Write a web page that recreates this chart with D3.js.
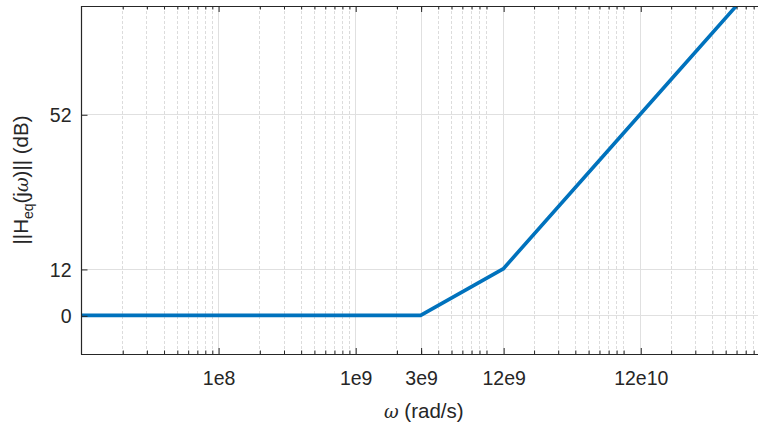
<!DOCTYPE html>
<html>
<head>
<meta charset="utf-8">
<script src="https://cdn.jsdelivr.net/npm/d3@7"></script>
<style>
  html, body { margin: 0; padding: 0; background: #fff; overflow: hidden; }
  svg { display: block; }
  text { font-family: "Liberation Sans", Arial, Helvetica, sans-serif; fill: #262626; }
</style>
</head>
<body>
<script>
// ---- data ----
const omega = [1e7, 3e9, 12e9, 12e10, 1.2e12];      // rad/s (corner points)
const gainDb = [0, 0, 12, 52, 92];                    // dB
const xTickValues = [1e8, 1e9, 3e9, 12e9, 12e10];
const xTickLabels = ["1e8", "1e9", "3e9", "12e9", "12e10"];
const yTickValues = [0, 12, 52];
const xDomain = [1e7, 1e12];
const yDomain = [-10, 80];

(function () {
const W = 758, H = 424;
const pL = 81, pT = 6, pB = 354;
const pR = pL + 5 * 137.1;   // axis extends beyond the cropped picture

const svg = d3.select("body").append("svg").attr("width", W).attr("height", H);

const x = d3.scaleLog().domain(xDomain).range([pL, pR]);
const y = d3.scaleLinear().domain(yDomain).range([pB, pT]);

// minor tick positions: k * 10^n, k = 2..9
const minorVals = [];
for (let n = 7; n < 12; n++) for (let k = 2; k <= 9; k++) minorVals.push(k * Math.pow(10, n));

const g = svg.append("g");

// minor grid (dashed)
g.append("g").selectAll("line").data(minorVals).join("line")
  .attr("x1", d => Math.round(x(d)) + 0.5).attr("x2", d => Math.round(x(d)) + 0.5)
  .attr("y1", pT).attr("y2", pB)
  .attr("stroke", "#dcdcdc").attr("stroke-width", 1).attr("stroke-dasharray", "3,2");

// major grid
g.append("g").selectAll("line").data(xTickValues).join("line")
  .attr("x1", d => Math.round(x(d)) + 0.5).attr("x2", d => Math.round(x(d)) + 0.5)
  .attr("y1", pT).attr("y2", pB)
  .attr("stroke", "#e0e0e0").attr("stroke-width", 1);
g.append("g").selectAll("line").data(yTickValues).join("line")
  .attr("x1", pL).attr("x2", pR)
  .attr("y1", d => Math.round(y(d)) + 0.5).attr("y2", d => Math.round(y(d)) + 0.5)
  .attr("stroke", "#e0e0e0").attr("stroke-width", 1);

// clip
svg.append("clipPath").attr("id", "clip").append("rect")
  .attr("x", pL).attr("y", pT).attr("width", pR - pL).attr("height", pB - pT);

// line
const pts = omega.map((w, i) => [w, gainDb[i]]);
svg.append("path").datum(pts)
  .attr("clip-path", "url(#clip)")
  .attr("fill", "none").attr("stroke", "#0072BD").attr("stroke-width", 3.6)
  .attr("stroke-linejoin", "round")
  .attr("d", d3.line().x(d => x(d[0])).y(d => y(d[1])));

const axisColor = "#262626";
function styleAxis(sel) {
  sel.select(".domain").remove();
  sel.selectAll("line").attr("stroke", axisColor).attr("stroke-width", 1);
}

// bottom major
const gb = svg.append("g").attr("transform", `translate(0.5,${pB})`)
  .call(d3.axisBottom(x).tickValues(xTickValues).tickFormat((d, i) => xTickLabels[i])
    .tickSizeInner(-6).tickSizeOuter(0));
styleAxis(gb);
gb.selectAll("text").attr("font-size", 19.5).attr("fill", axisColor).attr("dy", 0).attr("y", 30.5);

// bottom minor
const gbm = svg.append("g").attr("transform", `translate(0.5,${pB})`)
  .call(d3.axisBottom(x).tickValues(minorVals).tickFormat("").tickSizeInner(-3.5).tickSizeOuter(0));
styleAxis(gbm);

// top major & minor (inward)
const gt = svg.append("g").attr("transform", `translate(0.5,${pT})`)
  .call(d3.axisTop(x).tickValues(xTickValues).tickFormat("").tickSizeInner(-6).tickSizeOuter(0));
styleAxis(gt);
const gtm = svg.append("g").attr("transform", `translate(0.5,${pT})`)
  .call(d3.axisTop(x).tickValues(minorVals).tickFormat("").tickSizeInner(-3.5).tickSizeOuter(0));
styleAxis(gtm);

// left axis
const gl = svg.append("g").attr("transform", `translate(${pL + 0.5},0.5)`)
  .call(d3.axisLeft(y).tickValues(yTickValues).tickFormat(d3.format("d")).tickSizeInner(-6).tickSizeOuter(0));
styleAxis(gl);
gl.selectAll("text").attr("font-size", 19.5).attr("fill", axisColor).attr("x", -10).attr("dy", "0.36em");

// box lines
svg.append("line").attr("x1", pL + 0.5).attr("x2", pL + 0.5).attr("y1", pT).attr("y2", pB + 0.5)
  .attr("stroke", axisColor).attr("stroke-width", 1.2);
svg.append("line").attr("x1", pL).attr("x2", pR).attr("y1", pB + 0.5).attr("y2", pB + 0.5)
  .attr("stroke", axisColor).attr("stroke-width", 1.2);
svg.append("line").attr("x1", pL).attr("x2", pR).attr("y1", pT + 0.5).attr("y2", pT + 0.5)
  .attr("stroke", axisColor).attr("stroke-width", 1.2);

// x label
const xl = svg.append("text").attr("x", (pL + pR) / 2).attr("y", 418)
  .attr("text-anchor", "middle").attr("font-size", 20.5).attr("fill", axisColor);
xl.append("tspan").attr("font-style", "italic").attr("font-family", '"DejaVu Serif", serif').attr("font-size", 18).text("ω");
xl.append("tspan").text(" (rad/s)");

// y label
const yl = svg.append("text")
  .attr("transform", `translate(28,${(pT + pB) / 2}) rotate(-90)`)
  .attr("text-anchor", "middle").attr("font-size", 20.5).attr("fill", axisColor);
yl.append("tspan").text("||H");
yl.append("tspan").attr("font-size", 14).attr("dy", 5).text("eq");
yl.append("tspan").attr("dy", -5).text("(j");
yl.append("tspan").attr("font-style", "italic").attr("font-family", '"DejaVu Serif", serif').attr("font-size", 18).text("ω");
yl.append("tspan").text(")|| (dB)");
})();
</script>
</body>
</html>
